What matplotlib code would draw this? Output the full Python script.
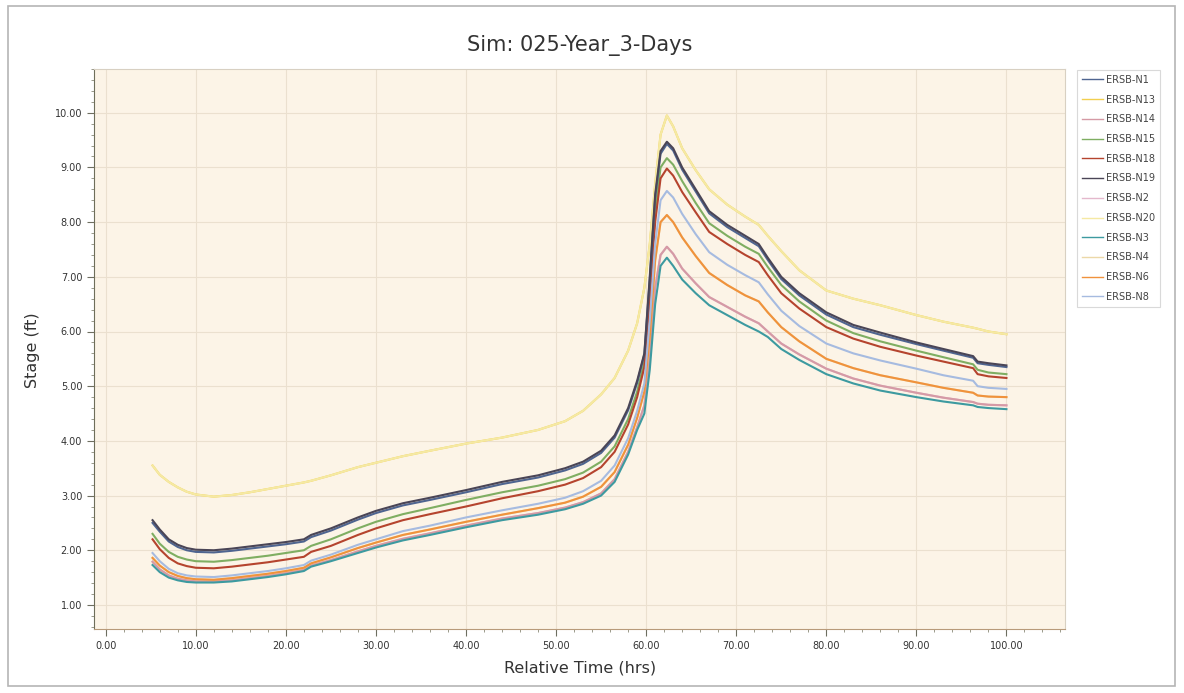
import matplotlib
matplotlib.use("Agg")
import matplotlib.pyplot as plt
from matplotlib.ticker import MultipleLocator, FormatStrFormatter
from matplotlib.patches import Rectangle

# Relative time (hrs), shared by all nodes
time_hrs = [5.2, 6, 7, 8, 9, 10, 12, 14, 16, 18, 20, 22, 22.8, 25, 28, 30, 33, 36, 40, 44,
            48, 51, 53, 55, 56.5, 58, 59, 59.8, 60.4, 61, 61.6, 62.3, 63, 64, 65.5, 67, 69,
            71, 72.5, 73.5, 75, 77, 80, 83, 86, 90, 93, 96.3, 96.8, 98, 100]

# Stage (ft) per node
stage_n19 = [2.55, 2.38, 2.2, 2.1, 2.04, 2.01, 2.0, 2.03, 2.07, 2.11, 2.15, 2.2, 2.28, 2.4, 2.6,
             2.72, 2.86, 2.96, 3.1, 3.25, 3.37, 3.5, 3.62, 3.82, 4.1, 4.6, 5.1, 5.6, 7.0, 8.5,
             9.3, 9.47, 9.35, 9.0, 8.6, 8.2, 7.95, 7.75, 7.6, 7.35, 7.0, 6.7, 6.35, 6.12, 5.98,
             5.8, 5.68, 5.55, 5.45, 5.42, 5.38]
stage_n1 = [2.5, 2.34, 2.16, 2.06, 2.0, 1.97, 1.96, 1.99, 2.03, 2.07, 2.11, 2.16, 2.24, 2.36,
            2.56, 2.68, 2.82, 2.92, 3.06, 3.21, 3.33, 3.46, 3.58, 3.78, 4.06, 4.56, 5.06, 5.58,
            6.95, 8.45, 9.25, 9.43, 9.31, 8.96, 8.56, 8.16, 7.91, 7.71, 7.56, 7.31, 6.96, 6.66,
            6.31, 6.08, 5.94, 5.77, 5.65, 5.52, 5.42, 5.39, 5.35]
stage_n15 = [2.3, 2.12, 1.97, 1.88, 1.83, 1.8, 1.79, 1.82, 1.86, 1.9, 1.95, 2.0, 2.08, 2.2, 2.4,
             2.52, 2.66, 2.77, 2.92, 3.06, 3.18, 3.3, 3.42, 3.62, 3.9, 4.4, 4.9, 5.45, 6.8, 8.2,
             9.0, 9.17, 9.05, 8.75, 8.35, 7.98, 7.75, 7.55, 7.42, 7.18, 6.85, 6.55, 6.2, 5.97,
             5.82, 5.65, 5.53, 5.4, 5.3, 5.25, 5.22]
stage_n18 = [2.2, 2.02, 1.86, 1.76, 1.71, 1.68, 1.67, 1.7, 1.74, 1.78, 1.83, 1.88, 1.97, 2.08,
             2.28, 2.4, 2.55, 2.66, 2.8, 2.95, 3.08, 3.2, 3.32, 3.52, 3.8, 4.3, 4.8, 5.35, 6.6,
             8.0, 8.8, 8.98, 8.85, 8.55, 8.18, 7.82, 7.6, 7.4, 7.27, 7.03, 6.7, 6.42, 6.08, 5.87,
             5.72, 5.56, 5.45, 5.33, 5.22, 5.18, 5.15]
stage_n8 = [1.95, 1.8, 1.66, 1.58, 1.54, 1.52, 1.51, 1.54, 1.58, 1.62, 1.67, 1.73, 1.81, 1.92,
            2.1, 2.2, 2.35, 2.45, 2.6, 2.73, 2.85, 2.96, 3.08, 3.27, 3.55, 4.05, 4.55, 5.05, 6.2,
            7.6, 8.4, 8.57, 8.45, 8.15, 7.78, 7.45, 7.22, 7.03, 6.9, 6.68, 6.38, 6.1, 5.78, 5.6,
            5.47, 5.32, 5.2, 5.1, 5.0, 4.97, 4.95]
stage_n6 = [1.86, 1.72, 1.6, 1.53, 1.49, 1.47, 1.46, 1.49, 1.53, 1.57, 1.62, 1.68, 1.76, 1.87,
            2.04, 2.14, 2.28, 2.38, 2.52, 2.65, 2.77, 2.87, 2.98, 3.16, 3.43, 3.93, 4.42, 4.9,
            5.9, 7.3, 8.0, 8.13, 8.0, 7.72, 7.38, 7.07, 6.85, 6.66, 6.55, 6.35, 6.08, 5.82, 5.5,
            5.33, 5.2, 5.07, 4.97, 4.88, 4.83, 4.81, 4.8]
stage_n14 = [1.79, 1.65, 1.54, 1.48, 1.45, 1.43, 1.43, 1.45, 1.49, 1.53, 1.58, 1.64, 1.72, 1.82,
             1.98, 2.08, 2.21, 2.31, 2.45, 2.58, 2.68, 2.78, 2.88, 3.04, 3.3, 3.8, 4.25, 4.65,
             5.5, 6.8, 7.4, 7.55, 7.42, 7.15, 6.88, 6.63, 6.45, 6.27, 6.15, 6.0, 5.78, 5.58,
             5.32, 5.14, 5.01, 4.88, 4.79, 4.71, 4.68, 4.66, 4.65]
stage_n3 = [1.73, 1.6, 1.5, 1.45, 1.42, 1.41, 1.41, 1.43, 1.47, 1.51, 1.56, 1.62, 1.7, 1.8, 1.95,
            2.05, 2.18, 2.28, 2.42, 2.55, 2.65, 2.75, 2.85, 3.0, 3.25, 3.75, 4.2, 4.5, 5.3, 6.5,
            7.2, 7.35, 7.2, 6.95, 6.7, 6.48, 6.3, 6.12, 6.0, 5.9, 5.68, 5.48, 5.22, 5.05, 4.92,
            4.8, 4.72, 4.65, 4.62, 4.6, 4.58]
stage_n20 = [3.55, 3.38, 3.25, 3.15, 3.07, 3.02, 2.98, 3.01, 3.06, 3.12, 3.18, 3.24, 3.27, 3.37,
             3.52, 3.6, 3.72, 3.82, 3.95, 4.06, 4.2, 4.36, 4.55, 4.85, 5.15, 5.65, 6.15, 6.8,
             7.6, 8.7, 9.6, 9.95, 9.75, 9.35, 8.95, 8.6, 8.32, 8.1, 7.95, 7.75, 7.47, 7.12, 6.75,
             6.6, 6.48, 6.3, 6.18, 6.07, 6.05, 6.0, 5.95]
# these nodes sit underneath other curves in the picture
stage_n13 = stage_n20
stage_n2 = stage_n14
stage_n4 = stage_n6

node_names = ["ERSB-N1", "ERSB-N13", "ERSB-N14", "ERSB-N15", "ERSB-N18", "ERSB-N19",
              "ERSB-N2", "ERSB-N20", "ERSB-N3", "ERSB-N4", "ERSB-N6", "ERSB-N8"]
node_stages = [stage_n1, stage_n13, stage_n14, stage_n15, stage_n18, stage_n19,
               stage_n2, stage_n20, stage_n3, stage_n4, stage_n6, stage_n8]
node_colors = ["#4f6590", "#f2cf4f", "#d59aa5", "#7fae62", "#b5442e", "#4a4556",
               "#e4b8cc", "#f5e9a3", "#3d9aa0", "#ecd8a8", "#f0923c", "#a6bbe0"]
# draw order: hidden ones first
node_z = [3.5, 2, 3, 3, 3, 4, 2, 3, 3, 2, 3, 3]

fig = plt.figure(figsize=(11.84, 6.93), dpi=100)
fig.patches.append(Rectangle((8 / 1184, 1 - 686 / 693), 1167 / 1184, 680 / 693,
                             transform=fig.transFigure, fill=False,
                             edgecolor="#b5b5b5", lw=1.2))

ax = fig.add_axes([94 / 1184, 1 - 629 / 693, (1065 - 94) / 1184, (629 - 69) / 693])
ax.set_facecolor("#fcf4e7")

lines = []
for name, vals, col, z in zip(node_names, node_stages, node_colors, node_z):
    ln, = ax.plot(time_hrs, vals, color=col, lw=1.5, label=name, zorder=z,
                  solid_joinstyle="round")
    lines.append(ln)

ax.set_xlim(-1.3, 106.5)
ax.set_ylim(0.56, 10.8)
ax.xaxis.set_major_locator(MultipleLocator(10))
ax.xaxis.set_minor_locator(MultipleLocator(2))
ax.yaxis.set_major_locator(MultipleLocator(1))
ax.yaxis.set_minor_locator(MultipleLocator(0.2))
ax.xaxis.set_major_formatter(FormatStrFormatter("%.2f"))
ax.yaxis.set_major_formatter(FormatStrFormatter("%.2f"))
ax.tick_params(which="major", length=5, width=0.8, color="#6e6e60",
               labelsize=7, labelcolor="#333333", direction="out")
ax.tick_params(which="minor", length=2.5, width=0.6, color="#8a8a78", direction="out")
ax.grid(True, which="major", color="#ebe0cf", lw=0.8)
ax.set_axisbelow(True)

ax.spines["left"].set_color("#6e6e5a")
ax.spines["bottom"].set_color("#b89a7a")
ax.spines["top"].set_color("#d8d0c2")
ax.spines["right"].set_color("#d8d0c2")

fig.text(580 / 1184, 1 - 45 / 693, "Sim: 025-Year_3-Days", ha="center", va="center",
         fontsize=15, color="#333333")
fig.text(32 / 1184, 1 - 350 / 693, "Stage (ft)", ha="center", va="center", rotation=90,
         fontsize=11.5, color="#333333")
fig.text(580 / 1184, 1 - 668 / 693, "Relative Time (hrs)", ha="center", va="center",
         fontsize=11.5, color="#333333")

leg = fig.legend(handles=lines, labels=node_names, loc="upper left",
                 bbox_to_anchor=(1077 / 1184, 1 - 70 / 693), fontsize=7,
                 handlelength=2.2, labelspacing=1.0, borderpad=0.5, borderaxespad=0,
                 handletextpad=0.3, frameon=True, fancybox=False)
leg.get_frame().set_edgecolor("#d0d0d0")
leg.get_frame().set_linewidth(0.8)
for t in leg.get_texts():
    t.set_color("#444444")
for h in leg.get_lines():
    h.set_linewidth(1.0)

fig.savefig("out.png", dpi=100)
